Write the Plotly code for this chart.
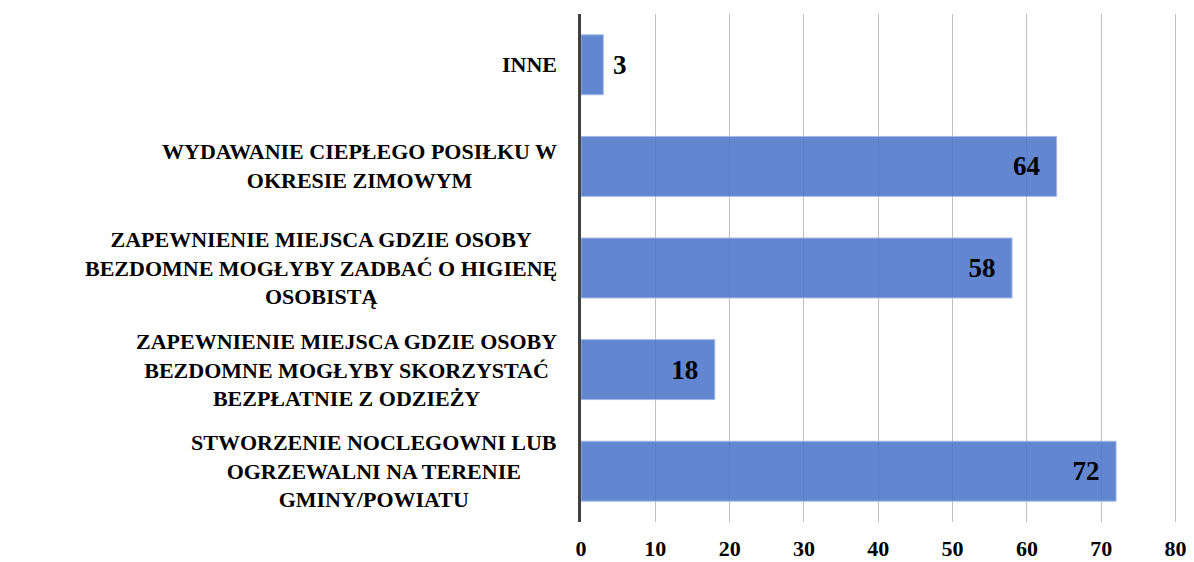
import plotly.graph_objects as go

categories = [
    "STWORZENIE NOCLEGOWNI LUB<br>OGRZEWALNI NA TERENIE<br>GMINY/POWIATU",
    "ZAPEWNIENIE MIEJSCA GDZIE OSOBY<br>BEZDOMNE MOGŁYBY SKORZYSTAĆ<br>BEZPŁATNIE Z ODZIEŻY",
    "ZAPEWNIENIE MIEJSCA GDZIE OSOBY<br>BEZDOMNE MOGŁYBY ZADBAĆ O HIGIENĘ<br>OSOBISTĄ",
    "WYDAWANIE CIEPŁEGO POSIŁKU W<br>OKRESIE ZIMOWYM",
    "INNE",
]
values = [72, 18, 58, 64, 3]
x_ticks = [0, 10, 20, 30, 40, 50, 60, 70, 80]

FONT = "Liberation Serif"
cat_ids = list(range(len(categories)))

positions = ["inside" if v > 10 else "outside" for v in values]
templates = ["<b>%{x}</b>\u00a0\u00a0" if p == "inside" else "\u00a0<b>%{x}</b>" for p in positions]

fig = go.Figure(
    go.Bar(
        x=values,
        y=cat_ids,
        orientation="h",
        width=0.59,
        marker=dict(color="rgba(72,114,199,0.86)",
                    line=dict(color="rgba(160,185,232,1)", width=1)),
        text=values,
        texttemplate=templates,
        textposition=positions,
        insidetextanchor="end",
        textangle=0,
        constraintext="none",
        cliponaxis=False,
        textfont=dict(family=FONT, size=27, color="black"),
        hoverinfo="skip",
    )
)

for i, c in enumerate(categories):
    fig.add_annotation(
        x=0, xref="paper", y=cat_ids[i], yref="y",
        text="<b>" + c + "</b>", showarrow=False, xanchor="right", yanchor="middle",
        align="center", xshift=-22,
        font=dict(family=FONT, size=22, color="black"),
    )

fig.update_layout(
    width=1194, height=562,
    margin=dict(l=581, r=17, t=14, b=40, autoexpand=False),
    paper_bgcolor="white", plot_bgcolor="white",
    showlegend=False,
    bargap=0.41,
)
fig.update_xaxes(
    range=[0, 80.2], tickvals=x_ticks, ticktext=["<b>%d</b>" % t for t in x_ticks],
    showgrid=True, gridcolor="#BFBFBF", gridwidth=1,
    zeroline=False, showline=False, ticks="", automargin=False,
    ticklabelstandoff=11,
    tickfont=dict(family=FONT, size=22, color="black"),
)
fig.update_yaxes(
    range=[-0.5, 4.5], showticklabels=False, showgrid=False, zeroline=False,
    showline=True, linecolor="#404040", linewidth=3, ticks="", automargin=False,
)

fig.write_html(
    "out.html",
    config={"displayModeBar": False},
    post_script="document.body.style.margin='0';document.body.style.overflow='hidden';",
)
